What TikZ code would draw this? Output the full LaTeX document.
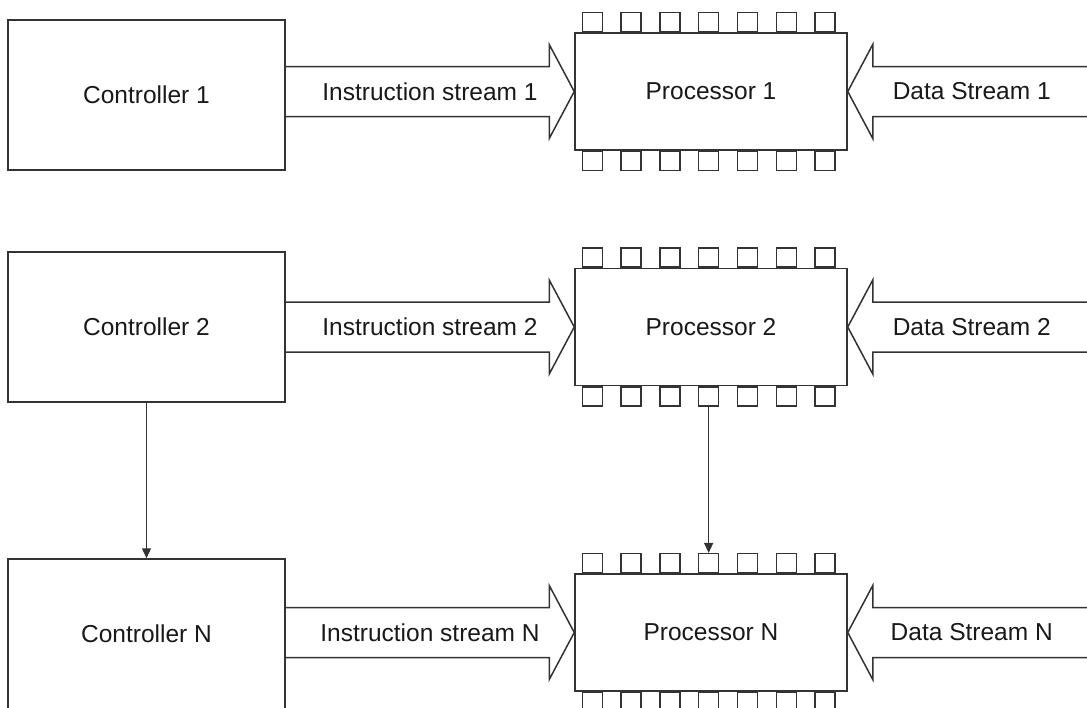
\documentclass[tikz,border=0pt]{standalone}
\usepackage{fontspec}
\setmainfont{Liberation Sans}
\usetikzlibrary{arrows.meta,calc}
\begin{document}
\begin{tikzpicture}[x=1pt,y=-1pt,
  line width=1.5pt, draw=black!80,
  txt/.style={font=\fontsize{24.5}{28}\selectfont, text=black!90},
  ctrl/.style={draw, txt, minimum width=277pt, minimum height=150pt, inner sep=0pt},
  proc/.style={draw, txt, minimum width=272pt, minimum height=117pt, inner sep=0pt},
  pin/.style={draw, line width=1.3pt, minimum width=20pt, minimum height=19pt, inner sep=0pt},
  lbl/.style={txt, inner sep=0pt},
  fat/.style={draw, line join=miter},
  link/.style={line width=1.2pt, -{Triangle[length=10pt,width=9pt]}}]
\useasboundingbox (0,0) rectangle (1087,707);

% controllers
\node[ctrl] (c1) at (146.5,95)  {Controller 1};
\node[ctrl] (c2) at (146.5,327) {Controller 2};
\node[ctrl] (cN) at (146.5,634) {Controller N};

% processors
\node[proc] (p1) at (711,91.5)  {Processor 1};
\node[proc] (p2) at (711,327)   {Processor 2};
\node[proc] (pN) at (711,632.5) {Processor N};

\foreach \p/\n in {1/1,2/2,N/N} {
  % pins along top and bottom edges
  \foreach \i in {1,...,7} {
    \node[pin, anchor=south] (p\p t\i) at ($(p\p.north west)+({18+(\i-1)*38.8},0)$) {};
    \node[pin, anchor=north] (p\p b\i) at ($(p\p.south west)+({18+(\i-1)*38.8},0)$) {};
  }
  % instruction stream: controller -> processor
  \draw[fat] ($(c\p.east|-p\p.west)+(0,-25)$) -- ($(p\p.west)+(-25,-25)$)
     -- ($(p\p.west)+(-25,-47)$) -- (p\p.west) -- ($(p\p.west)+(-25,47)$)
     -- ($(p\p.west)+(-25,25)$) -- ($(c\p.east|-p\p.west)+(0,25)$);
  \node[lbl] at ($(c\p.east|-p\p.west)!0.5!(p\p.west)$) {Instruction stream \n};
  % data stream entering from the right
  \coordinate (d\p) at ($(p\p.east)+(260,0)$);
  \draw[fat] ($(d\p)+(0,-25)$) -- ($(p\p.east)+(25,-25)$)
     -- ($(p\p.east)+(25,-47)$) -- (p\p.east) -- ($(p\p.east)+(25,47)$)
     -- ($(p\p.east)+(25,25)$) -- ($(d\p)+(0,25)$);
  \node[lbl] at ($(p\p.east)+(124,0)$) {Data Stream \n};
}

% links between rows
\draw[link] (c2.south) -- (cN.north);
\draw[link] (p2b4.south) -- (pNt4.north);
\end{tikzpicture}
\end{document}
